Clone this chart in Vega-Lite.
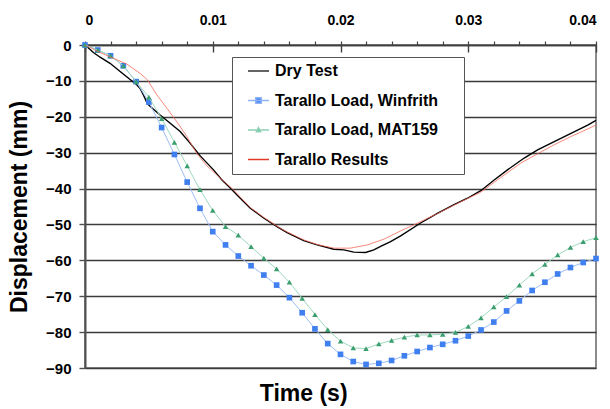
{
  "$schema": "https://vega.github.io/schema/vega-lite/v6.json",
  "width": 511,
  "height": 323,
  "autosize": "none",
  "padding": {"left": 85, "top": 45, "right": 14, "bottom": 41},
  "background": "white",
  "title": {"text": "Time (s)", "orient": "bottom", "anchor": "middle", "frame": "bounds", "font": "Liberation Sans", "fontSize": 23, "fontWeight": "bold", "color": "black", "offset": 7},
  "config": {
    "view": {"stroke": "#666", "strokeWidth": 1.5},
    "font": "Liberation Sans",
    "axisY": {
      "grid": true, "gridColor": "#3a3a3a", "gridWidth": 1.4,
      "domainColor": "#505050", "domainWidth": 2,
      "tickColor": "#505050", "tickWidth": 1.4, "tickSize": 6,
      "labelFont": "Liberation Sans", "labelFontSize": 15, "labelFontWeight": "bold", "labelColor": "black", "labelPadding": 8,
      "titleFont": "Liberation Sans", "titleFontSize": 23, "titleFontWeight": "bold", "titleColor": "black", "titlePadding": 14,
      "values": [0, -10, -20, -30, -40, -50, -60, -70, -80, -90]
    }
  },
  "datasets": {
    "dry": [
      {"t": 0, "v": 0}, {"t": 0.00066, "v": -2.1}, {"t": 0.00118, "v": -3.4}, {"t": 0.00196, "v": -5.1},
      {"t": 0.00275, "v": -7.4}, {"t": 0.00353, "v": -9.6}, {"t": 0.004, "v": -10.9}, {"t": 0.00431, "v": -12.1},
      {"t": 0.00457, "v": -13.9}, {"t": 0.00489, "v": -16.4}, {"t": 0.00536, "v": -17.9}, {"t": 0.00588, "v": -19.5},
      {"t": 0.00667, "v": -21.8}, {"t": 0.00745, "v": -24.1}, {"t": 0.00824, "v": -27.4}, {"t": 0.00902, "v": -30.9},
      {"t": 0.01006, "v": -34.8}, {"t": 0.01072, "v": -37.6}, {"t": 0.0113, "v": -39.6}, {"t": 0.0119, "v": -41.8},
      {"t": 0.01294, "v": -45.5}, {"t": 0.01398, "v": -48.2}, {"t": 0.01503, "v": -50.6}, {"t": 0.01582, "v": -52.3},
      {"t": 0.01712, "v": -54.5}, {"t": 0.01817, "v": -55.7}, {"t": 0.01948, "v": -56.9}, {"t": 0.02026, "v": -57.1},
      {"t": 0.02104, "v": -57.7}, {"t": 0.02196, "v": -57.8}, {"t": 0.02261, "v": -57.1}, {"t": 0.02314, "v": -56.1},
      {"t": 0.02392, "v": -54.8}, {"t": 0.02471, "v": -53.2}, {"t": 0.02627, "v": -49.6}, {"t": 0.02758, "v": -46.9},
      {"t": 0.02889, "v": -44.5}, {"t": 0.02994, "v": -42.7}, {"t": 0.03098, "v": -40.6}, {"t": 0.03203, "v": -37.6},
      {"t": 0.03307, "v": -34.8}, {"t": 0.03438, "v": -31.5}, {"t": 0.03543, "v": -29.2}, {"t": 0.03673, "v": -26.9},
      {"t": 0.03804, "v": -24.6}, {"t": 0.03935, "v": -22.3}, {"t": 0.04, "v": -21.0}
    ],
    "results": [
      {"t": 0, "v": 0}, {"t": 0.00118, "v": -2.1}, {"t": 0.00222, "v": -3.7}, {"t": 0.00327, "v": -5.3},
      {"t": 0.00431, "v": -7.9}, {"t": 0.00489, "v": -9.7}, {"t": 0.00562, "v": -13.9}, {"t": 0.00641, "v": -17.6},
      {"t": 0.00719, "v": -21.4}, {"t": 0.00797, "v": -25.5}, {"t": 0.00876, "v": -30.3}, {"t": 0.00955, "v": -33.7},
      {"t": 0.01059, "v": -37.1}, {"t": 0.01163, "v": -40.4}, {"t": 0.01294, "v": -45.3}, {"t": 0.01398, "v": -48.0},
      {"t": 0.01503, "v": -50.5}, {"t": 0.01582, "v": -52.1}, {"t": 0.01712, "v": -54.3}, {"t": 0.01817, "v": -55.6},
      {"t": 0.01948, "v": -56.6}, {"t": 0.02078, "v": -56.6}, {"t": 0.0221, "v": -55.7}, {"t": 0.0234, "v": -54.1},
      {"t": 0.02471, "v": -51.8}, {"t": 0.02575, "v": -50.1}, {"t": 0.02758, "v": -47.0}, {"t": 0.02889, "v": -44.6},
      {"t": 0.03098, "v": -41.0}, {"t": 0.03255, "v": -36.9}, {"t": 0.03412, "v": -32.9}, {"t": 0.03543, "v": -30.3},
      {"t": 0.03673, "v": -27.8}, {"t": 0.03804, "v": -25.5}, {"t": 0.03935, "v": -23.4}, {"t": 0.04, "v": -22.3}
    ],
    "winfrith": [
      {"t": 0, "v": 0}, {"t": 0.001, "v": -1.4}, {"t": 0.002, "v": -3.0}, {"t": 0.003, "v": -5.8}, {"t": 0.004, "v": -10.2},
      {"t": 0.005, "v": -15.9}, {"t": 0.006, "v": -23.0}, {"t": 0.007, "v": -30.5}, {"t": 0.008, "v": -38.2}, {"t": 0.009, "v": -45.5},
      {"t": 0.010, "v": -52.0}, {"t": 0.011, "v": -55.7}, {"t": 0.012, "v": -58.8}, {"t": 0.013, "v": -61.5}, {"t": 0.014, "v": -64.1},
      {"t": 0.015, "v": -66.9}, {"t": 0.016, "v": -70.4}, {"t": 0.017, "v": -74.6}, {"t": 0.018, "v": -79.1}, {"t": 0.019, "v": -83.2},
      {"t": 0.020, "v": -86.2}, {"t": 0.021, "v": -88.2}, {"t": 0.022, "v": -89.0}, {"t": 0.023, "v": -88.7}, {"t": 0.024, "v": -87.9},
      {"t": 0.025, "v": -86.6}, {"t": 0.026, "v": -85.4}, {"t": 0.027, "v": -84.3}, {"t": 0.028, "v": -83.4}, {"t": 0.029, "v": -82.4},
      {"t": 0.030, "v": -81.1}, {"t": 0.031, "v": -79.4}, {"t": 0.032, "v": -77.2}, {"t": 0.033, "v": -74.1}, {"t": 0.034, "v": -71.3},
      {"t": 0.035, "v": -68.4}, {"t": 0.036, "v": -66.1}, {"t": 0.037, "v": -63.8}, {"t": 0.038, "v": -62.0}, {"t": 0.039, "v": -60.6},
      {"t": 0.040, "v": -59.5}
    ],
    "mat159": [
      {"t": 0, "v": 0}, {"t": 0.001, "v": -1.4}, {"t": 0.002, "v": -3.0}, {"t": 0.003, "v": -5.8}, {"t": 0.004, "v": -10.2},
      {"t": 0.005, "v": -14.5}, {"t": 0.006, "v": -20.5}, {"t": 0.007, "v": -27.1}, {"t": 0.008, "v": -33.7}, {"t": 0.009, "v": -40.3},
      {"t": 0.010, "v": -46.1}, {"t": 0.011, "v": -50.6}, {"t": 0.012, "v": -53.0}, {"t": 0.013, "v": -56.2}, {"t": 0.014, "v": -59.4},
      {"t": 0.015, "v": -62.4}, {"t": 0.016, "v": -66.1}, {"t": 0.017, "v": -70.6}, {"t": 0.018, "v": -75.1}, {"t": 0.019, "v": -79.3},
      {"t": 0.020, "v": -82.5}, {"t": 0.021, "v": -84.4}, {"t": 0.022, "v": -84.6}, {"t": 0.023, "v": -83.3}, {"t": 0.024, "v": -82.3},
      {"t": 0.025, "v": -81.4}, {"t": 0.026, "v": -80.8}, {"t": 0.027, "v": -80.8}, {"t": 0.028, "v": -80.6}, {"t": 0.029, "v": -80.1},
      {"t": 0.030, "v": -78.4}, {"t": 0.031, "v": -76.0}, {"t": 0.032, "v": -73.0}, {"t": 0.033, "v": -70.1}, {"t": 0.034, "v": -66.9},
      {"t": 0.035, "v": -63.8}, {"t": 0.036, "v": -61.1}, {"t": 0.037, "v": -58.5}, {"t": 0.038, "v": -56.4}, {"t": 0.039, "v": -54.8},
      {"t": 0.040, "v": -53.7}
    ],
    "legend": [
      {"t": 0, "v": 0, "series": "Dry Test"},
      {"t": 0, "v": 0, "series": "Tarallo Load, Winfrith"},
      {"t": 0, "v": 0, "series": "Tarallo Load, MAT159"},
      {"t": 0, "v": 0, "series": "Tarallo Results"}
    ]
  },
  "resolve": {"axis": {"x": "independent"}},
  "layer": [
    {
      "data": {"name": "dry"},
      "mark": {"type": "line", "color": "black", "strokeWidth": 1.4},
      "encoding": {
        "x": {"field": "t", "type": "quantitative", "scale": {"domain": [0, 0.04], "nice": false},
          "axis": {"orient": "top", "title": null, "grid": false,
            "values": [0, 0.002, 0.004, 0.006, 0.008, 0.01, 0.012, 0.014, 0.016, 0.018, 0.02, 0.022, 0.024, 0.026, 0.028, 0.03, 0.032, 0.034, 0.036, 0.038, 0.04],
            "format": "~g",
            "labelExpr": "indexof([0, 0.01, 0.02, 0.03, 0.04], datum.value) >= 0 ? datum.label : ''",
            "tickSize": 4, "tickColor": "#404040", "tickWidth": 1.2,
            "domainColor": "#404040", "domainWidth": 1.6,
            "labelFont": "Liberation Sans", "labelFontSize": 14, "labelFontWeight": "bold", "labelColor": "black", "labelPadding": 14, "labelOverlap": false}},
        "y": {"field": "v", "type": "quantitative", "scale": {"domain": [-90, 0], "nice": false}, "title": "Displacement (mm)"}
      }
    },
    {
      "data": {"name": "winfrith"},
      "mark": {"type": "line", "color": "#9DBDF5", "strokeWidth": 1, "point": {"shape": "square", "filled": true, "color": "#3F7FF0", "size": 32, "opacity": 1}},
      "encoding": {
        "x": {"field": "t", "type": "quantitative", "axis": null},
        "y": {"field": "v", "type": "quantitative"}
      }
    },
    {
      "data": {"name": "mat159"},
      "mark": {"type": "line", "color": "#9FD8BE", "strokeWidth": 1, "point": {"shape": "triangle-up", "filled": true, "color": "#3A9E6E", "size": 30, "opacity": 1}},
      "encoding": {
        "x": {"field": "t", "type": "quantitative", "axis": null},
        "y": {"field": "v", "type": "quantitative"}
      }
    },
    {
      "data": {"name": "results"},
      "mark": {"type": "line", "color": "#F26250", "strokeWidth": 0.9, "opacity": 0.85},
      "encoding": {
        "x": {"field": "t", "type": "quantitative",
          "axis": {"orient": "top", "title": null, "grid": false, "labels": false, "domain": false,
            "values": [0, 0.01, 0.02, 0.03, 0.04], "tickSize": -7, "tickColor": "#404040", "tickWidth": 1.4}},
        "y": {"field": "v", "type": "quantitative"}
      }
    },
    {
      "data": {"name": "legend"},
      "mark": {"type": "point", "opacity": 0, "filled": true},
      "encoding": {
        "x": {"field": "t", "type": "quantitative", "axis": null},
        "y": {"field": "v", "type": "quantitative"},
        "shape": {"field": "series", "type": "nominal",
          "scale": {"domain": ["Dry Test", "Tarallo Load, Winfrith", "Tarallo Load, MAT159", "Tarallo Results"],
            "range": ["M0.5,0H5.75", "M0.5,0H5.75M2.425,-0.7H3.825V0.7H2.425Z", "M0.5,0H5.75M3.125,-0.6L3.65,0.45L2.6,0.45Z", "M0.5,0H5.75"]},
          "legend": {"title": "W", "titleOrient": "right", "titleColor": "white", "titleFontSize": 16, "titleFont": "Liberation Sans", "titleFontWeight": "bold", "titlePadding": 4,
            "orient": "none", "legendX": 147, "legendY": 12, "padding": 6,
            "strokeColor": "#555", "fillColor": "white", "symbolSize": 64, "symbolStrokeWidth": 1.5, "symbolOpacity": 1,
            "labelFont": "Liberation Sans", "labelFontSize": 16, "labelFontWeight": "bold", "labelColor": "black",
            "labelOffset": 21, "rowPadding": 13.5, "labelLimit": 400}},
        "fill": {"field": "series", "type": "nominal",
          "scale": {"domain": ["Dry Test", "Tarallo Load, Winfrith", "Tarallo Load, MAT159", "Tarallo Results"],
            "range": ["#000000", "#3F7FF0", "#3A9E6E", "#E03A28"]}},
        "stroke": {"field": "series", "type": "nominal",
          "scale": {"domain": ["Dry Test", "Tarallo Load, Winfrith", "Tarallo Load, MAT159", "Tarallo Results"],
            "range": ["#303030", "#8FB3F5", "#8FD0B4", "#E03A28"]}}
      }
    }
  ]
}
